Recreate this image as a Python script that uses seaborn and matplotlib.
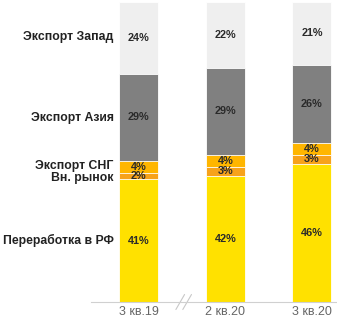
import matplotlib
matplotlib.use("Agg")
import matplotlib.pyplot as plt
import seaborn as sns
import pandas as pd
import numpy as np

periods = ["3 кв.19", "2 кв.20", "3 кв.20"]
segments = ["Переработка в РФ", "Вн. рынок", "Экспорт СНГ", "Экспорт Азия", "Экспорт Запад"]
pererabotka = [41, 42, 46]
vn_rynok = [2, 3, 3]
eksport_sng = [4, 4, 4]
eksport_asia = [29, 29, 26]
eksport_zapad = [24, 22, 21]
colors = ["#FFE100", "#F7A21B", "#FFB600", "#808080", "#EFEFEF"]

sns.set_style("white")
plt.rcParams["font.family"] = ["Liberation Sans", "DejaVu Sans"]

values = [pererabotka, vn_rynok, eksport_sng, eksport_asia, eksport_zapad]
cum = np.cumsum(np.array(values), axis=0)

fig = plt.figure(figsize=(3.37, 3.20), dpi=100)
ax = fig.add_axes([91/337, 18/320, 246/337, 300/320])

# draw from top (largest cumulative) to bottom
for i in range(len(segments) - 1, -1, -1):
    df = pd.DataFrame({"period": periods, "val": cum[i]})
    sns.barplot(data=df, x="period", y="val", order=periods, color=colors[i],
                width=0.45, edgecolor="white", linewidth=0.6, saturation=1, ax=ax)

for i, seg in enumerate(segments):
    for j in range(len(periods)):
        v = values[i][j]
        yc = cum[i][j] - v / 2
        ax.text(j, yc, f"{v}%", ha="center", va="center", fontsize=7.8,
                fontweight="bold", color="#2A2A2A")

label_y = {"Переработка в РФ": 20.5, "Вн. рынок": 41.3, "Экспорт СНГ": 45.3,
           "Экспорт Азия": 61.5, "Экспорт Запад": 88.3}
for seg in segments:
    ax.text(-0.29, label_y[seg], seg, ha="right", va="center", fontsize=8.8,
            fontweight="bold", color="#222222", clip_on=False)

ax.set_xlim(-0.55, 2.29)
ax.set_ylim(0, 100)
ax.set_xlabel("")
ax.set_ylabel("")
ax.set_yticks([])
ax.tick_params(axis="x", length=0, labelsize=9, labelcolor="#666666", pad=3)
for s in ["top", "right", "left"]:
    ax.spines[s].set_visible(False)
ax.spines["bottom"].set_color("#D0D0D0")
ax.spines["bottom"].set_linewidth(0.8)

# axis break marks
for dx in (-0.04, 0.04):
    ax.plot([0.47 + dx, 0.57 + dx], [-2.5, 2.5], color="#C8C8C8", lw=0.8, clip_on=False)

fig.savefig("out.png", dpi=100)
